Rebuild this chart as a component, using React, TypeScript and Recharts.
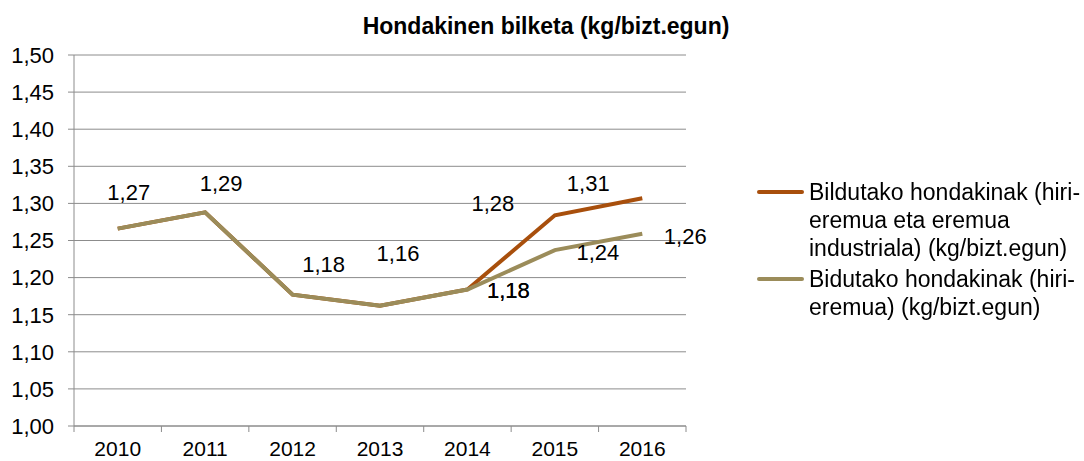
import { CartesianGrid, Legend, LabelList, Line, LineChart, XAxis, YAxis } from "recharts";

const years = ["2010", "2011", "2012", "2013", "2014", "2015", "2016"];
const industrial = [1.266, 1.288, 1.177, 1.162, 1.184, 1.284, 1.307];
const urban = [1.266, 1.288, 1.177, 1.162, 1.184, 1.237, 1.259];
const yTicks = [1.0, 1.05, 1.1, 1.15, 1.2, 1.25, 1.3, 1.35, 1.4, 1.45, 1.5];

const seriesNames = {
  industrial: "Bildutako hondakinak (hiri-eremua eta eremua industriala) (kg/bizt.egun)",
  urban: "Bidutako hondakinak (hiri-eremua) (kg/bizt.egun)",
};

// manual label nudges (Excel-style dragged labels), null = no label
const industrialLabelShift: ([number, number] | null)[] = [null, null, null, null, [41, 1], [-62, -12], [-54, -15]];
const urbanLabelShift: ([number, number] | null)[] = [[11, -36], [16, -29], [31, -30], [18, -52], [41, 1], [43, 2], [43, 3]];

const data = years.map((year, i) => ({ year, industrial: industrial[i], urban: urban[i] }));

const FONT = "'Liberation Sans', Arial, sans-serif";
const fmt = (v: number) => v.toFixed(2).replace(".", ",");

const makeLabel = (shifts: ([number, number] | null)[]) => (props: any) => {
  const { x, y, value, index } = props;
  const s = shifts[index];
  if (!s) return null;
  return (
    <text x={x + s[0]} y={y + s[1]} textAnchor="middle" dominantBaseline="central" fontSize={22} fill="#000" fontFamily={FONT}>
      {fmt(Number(value))}
    </text>
  );
};

function YearTick(props: any) {
  const { x, y, payload, index, visibleTicksCount } = props;
  const half = payload.offset ?? 0;
  return (
    <g>
      <line x1={x - half} x2={x - half} y1={y - 11} y2={y - 5} stroke="#8c8c8c" />
      {index === visibleTicksCount - 1 && <line x1={x + half} x2={x + half} y1={y - 11} y2={y - 5} stroke="#8c8c8c" />}
      <text x={x} y={y + 19} textAnchor="middle" fontSize={21} fill="#000" fontFamily={FONT}>
        {payload.value}
      </text>
    </g>
  );
}

function LegendBox({ payload }: any) {
  return (
    <div style={{ fontFamily: FONT, fontSize: 23, lineHeight: "28px", color: "#000", textAlign: "left" }}>
      {(payload || []).map((p: any) => (
        <div key={p.value} style={{ display: "flex", alignItems: "flex-start", marginBottom: 3 }}>
          <span style={{ display: "inline-block", width: 47, height: 4, background: p.color, marginTop: 12, marginRight: 5, flex: "none", borderRadius: 2 }} />
          <span style={{ width: 290 }}>{p.value}</span>
        </div>
      ))}
    </div>
  );
}

export default function App() {
  return (
    <div style={{ position: "fixed", left: 0, top: 0, width: 1084, height: 461, background: "#fff" }}>
      <div style={{ position: "absolute", left: 0, top: 13, width: 1092, textAlign: "center", fontFamily: FONT, fontWeight: "bold", fontSize: 23, color: "#000" }}>
        Hondakinen bilketa (kg/bizt.egun)
      </div>
      <LineChart width={1084} height={461} data={data} margin={{ top: 55, right: 398, bottom: 0, left: 0 }}>
        <CartesianGrid vertical={false} stroke="#8c8c8c" />
        <XAxis
          dataKey="year"
          scale="band"
          height={35}
          axisLine={{ stroke: "#8c8c8c" }}
          tickLine={false}
          tickSize={6}
          tickMargin={5}
          tick={<YearTick />}
          interval={0}
        />
        <YAxis
          width={74}
          domain={[1, 1.5]}
          ticks={yTicks}
          tickFormatter={fmt}
          axisLine={{ stroke: "#8c8c8c" }}
          tickLine={{ stroke: "#8c8c8c" }}
          tickSize={6}
          tickMargin={14}
          tick={{ fontSize: 22, fill: "#000", fontFamily: FONT }}
          interval={0}
        />
        <Legend
          layout="horizontal"
          verticalAlign="middle"
          align="center"
          itemSorter="dataKey"
          content={<LegendBox />}
          wrapperStyle={{ position: "absolute", left: 757, top: 178, width: 340 }}
        />
        <Line
          dataKey="industrial"
          name={seriesNames.industrial}
          stroke="#A84F0C"
          strokeWidth={4}
          dot={false}
          isAnimationActive={false}
        >
          <LabelList dataKey="industrial" content={makeLabel(industrialLabelShift)} />
        </Line>
        <Line
          dataKey="urban"
          name={seriesNames.urban}
          stroke="#9B8C5A"
          strokeWidth={4}
          dot={false}
          isAnimationActive={false}
        >
          <LabelList dataKey="urban" content={makeLabel(urbanLabelShift)} />
        </Line>
      </LineChart>
    </div>
  );
}
